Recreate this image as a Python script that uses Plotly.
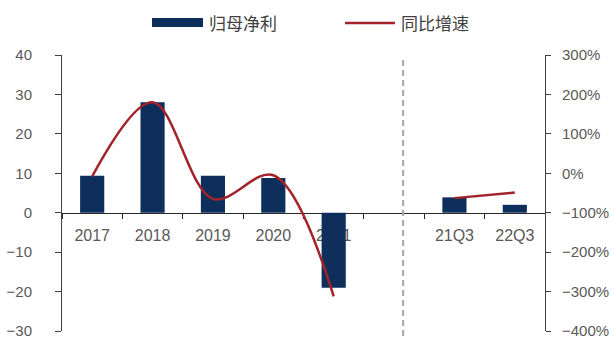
import plotly.graph_objects as go

# 归母净利 (亿元) and 同比增速 (%) by period; the blank slot separates annual and quarterly data
periods = ["2017", "2018", "2019", "2020", "2021", " ", "21Q3", "22Q3"]
net_profit = [9.4, 28.0, 9.4, 8.8, -19.0, None, 3.9, 2.0]
yoy_growth = [-8, 180, -65, -5, -312, None, -63, -49]

left_ticks = [-30, -20, -10, 0, 10, 20, 30, 40]
right_ticks = [-400, -300, -200, -100, 0, 100, 200, 300]
right_labels = [f"{v:d}%".replace("-", "\u2212") for v in right_ticks]

W, H = 614, 338
M = dict(l=62, r=69, t=55, b=7)
BAR_COLOR = "#0e2f5c"
LINE_COLOR = "#a3232b"
TEXT_COLOR = "#595959"
CJK = "Noto Sans CJK SC"
LATIN = "Liberation Sans, Arial, sans-serif"


def px_x(px):
    return (px - M["l"]) / (W - M["l"] - M["r"])


def px_y(py):
    return (H - M["b"] - py) / (H - M["t"] - M["b"])


fig = go.Figure()
fig.add_trace(go.Bar(
    x=periods, y=net_profit, name="归母净利",
    marker=dict(color=BAR_COLOR, line=dict(width=0)),
    width=0.4, yaxis="y",
))
fig.add_trace(go.Scatter(
    x=periods, y=yoy_growth, name="同比增速", mode="lines",
    line=dict(color=LINE_COLOR, width=2.5, shape="spline", smoothing=1.0),
    connectgaps=False, yaxis="y2",
))

zero_pos = (0 - left_ticks[0]) / (left_ticks[-1] - left_ticks[0])

fig.update_layout(
    width=W, height=H, margin=M,
    paper_bgcolor="white", plot_bgcolor="white",
    showlegend=False, bargap=0.6,
    font=dict(family=LATIN, size=15, color=TEXT_COLOR),
    xaxis=dict(
        type="category", categoryorder="array", categoryarray=periods,
        anchor="free", position=zero_pos,
        showline=True, linecolor="#262626", linewidth=1.2,
        ticks="outside", tickson="boundaries", ticklen=5, tickcolor="#262626",
        tickfont=dict(size=16, color=TEXT_COLOR),
        ticklabelstandoff=8,
        showgrid=False, zeroline=False, layer="below traces",
    ),
    yaxis=dict(
        range=[left_ticks[0], left_ticks[-1]], tickvals=left_ticks,
        showline=True, linecolor="#404040", linewidth=1,
        ticks="outside", ticklen=6, tickcolor="#404040",
        tickfont=dict(size=15, color=TEXT_COLOR),
        ticklabelstandoff=20, ticklabeloverflow="allow", automargin=False,
        showgrid=False, zeroline=False,
    ),
    yaxis2=dict(
        overlaying="y", side="right",
        range=[right_ticks[0], right_ticks[-1]],
        tickvals=right_ticks, ticktext=right_labels,
        showline=True, linecolor="#404040", linewidth=1,
        ticks="outside", ticklen=5, tickcolor="#404040",
        tickfont=dict(size=15, color=TEXT_COLOR),
        ticklabelstandoff=8, ticklabeloverflow="allow", automargin=False,
        showgrid=False, zeroline=False,
    ),
)

# dashed divider between annual and quarterly periods
fig.add_shape(
    type="line", xref="x", yref="paper", x0=5.15, x1=5.15, y0=px_y(336), y1=px_y(58),
    line=dict(color="#a6a6a6", width=2, dash="6px,4px"),
)

# legend drawn along the top
fig.add_shape(type="rect", xref="paper", yref="paper",
              x0=px_x(152), x1=px_x(203), y0=px_y(27), y1=px_y(18),
              fillcolor=BAR_COLOR, line=dict(width=0))
fig.add_annotation(text="归母净利", xref="paper", yref="paper",
                   x=px_x(207), y=px_y(23), xanchor="left", yanchor="middle",
                   showarrow=False, font=dict(family=CJK, size=17, color="#404040"))
fig.add_shape(type="line", xref="paper", yref="paper",
              x0=px_x(345), x1=px_x(395), y0=px_y(23), y1=px_y(23),
              line=dict(color=LINE_COLOR, width=2.5))
fig.add_annotation(text="同比增速", xref="paper", yref="paper",
                   x=px_x(399), y=px_y(23), xanchor="left", yanchor="middle",
                   showarrow=False, font=dict(family=CJK, size=17, color="#404040"))

fig.write_html("out.html")
